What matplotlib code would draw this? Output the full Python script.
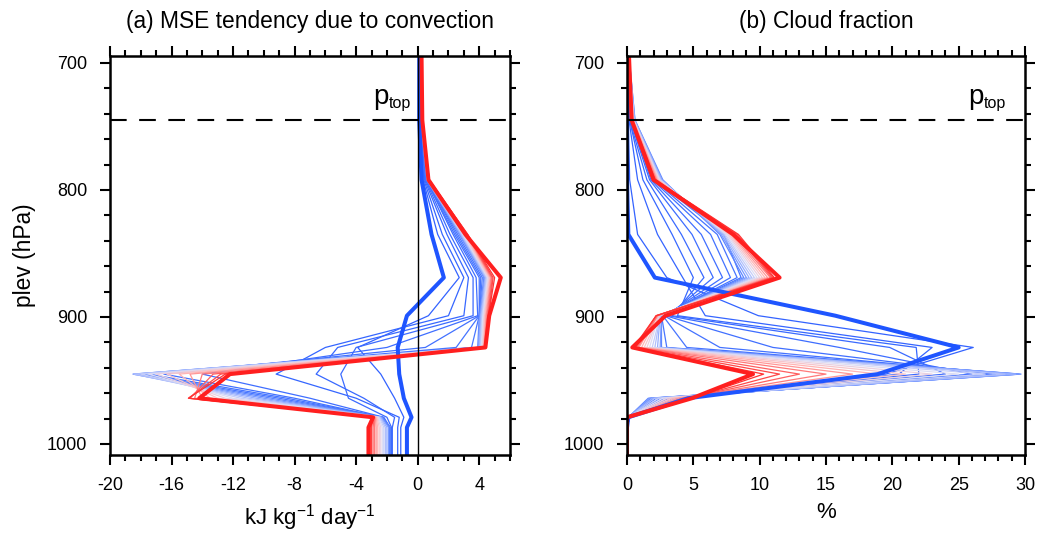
import numpy as np
import matplotlib.pyplot as plt
from matplotlib.colors import LinearSegmentedColormap
from matplotlib.ticker import MultipleLocator

plt.rcParams['font.family'] = ['Liberation Sans', 'DejaVu Sans']
plt.rcParams['axes.unicode_minus'] = False

# pressure levels (hPa) of the profiles
plev = [694.5, 745, 792, 835, 869, 899, 924, 945, 964, 979, 987, 1008.7]
p_top = 745

# (a) MSE tendency due to convection (kJ kg-1 day-1)
mse_first = [0.1, 0.1, 0.25, 0.9, 1.7, -0.7, -1.3, -1.2, -0.9, -0.4, -0.7, -0.7]
mse_last = [0.25, 0.3, 0.7, 3.1, 5.4, 4.65, 4.4, -12.2, -14.2, -2.9, -3.2, -3.2]
mse_early = [
    [0.1, 0.15, 0.35, 1.3, 2.7, 0.7, -3.9, -2.4, -1.5, -0.9, -1.1, -1.1],
    [0.1, 0.15, 0.4, 1.6, 3.0, 2.0, -6.0, -9.2, -4.0, -1.2, -1.3, -1.3],
    [0.1, 0.2, 0.45, 1.9, 3.3, 3.0, -5.2, -6.6, -3.5, -1.5, -1.65, -1.65],
    [0.15, 0.2, 0.5, 2.1, 3.6, 3.6, -4.0, -5.0, -4.5, -2.0, -1.7, -1.7],
    [0.15, 0.2, 0.55, 2.3, 3.8, 3.9, -2.0, -14.0, -7.0, -2.2, -1.8, -1.8],
    [0.15, 0.2, 0.55, 2.4, 4.0, 4.0, 0.5, -16.5, -8.0, -2.3, -1.8, -1.8],
    [0.15, 0.2, 0.6, 2.5, 4.1, 4.0, 2.5, -17.5, -8.5, -2.3, -1.8, -1.8],
    [0.15, 0.2, 0.6, 2.6, 4.2, 4.0, 3.5, -18.0, -9.0, -2.3, -1.8, -1.8],
]
mse_late = [
    [0.15, 0.2, 0.6, 2.7, 4.3, 4.0, 3.9, -18.3, -9.5, -2.3, -1.8, -1.8],
    [0.15, 0.2, 0.6, 2.75, 4.35, 4.05, 3.95, -18.5, -10.0, -2.35, -1.9, -1.9],
    [0.2, 0.25, 0.62, 2.8, 4.4, 4.1, 4.0, -18.5, -10.5, -2.4, -2.0, -2.0],
    [0.2, 0.25, 0.64, 2.85, 4.45, 4.15, 4.05, -18.4, -11.0, -2.45, -2.1, -2.1],
    [0.2, 0.25, 0.66, 2.9, 4.5, 4.2, 4.1, -18.0, -11.5, -2.5, -2.2, -2.2],
    [0.2, 0.25, 0.68, 2.95, 4.55, 4.25, 4.15, -17.5, -12.0, -2.55, -2.3, -2.3],
    [0.2, 0.25, 0.7, 3.0, 4.6, 4.3, 4.2, -17.0, -12.5, -2.6, -2.4, -2.4],
    [0.2, 0.3, 0.7, 3.05, 4.65, 4.35, 4.25, -16.3, -13.0, -2.65, -2.5, -2.5],
    [0.25, 0.3, 0.72, 3.1, 4.7, 4.4, 4.3, -15.5, -13.5, -2.7, -2.6, -2.6],
    [0.25, 0.3, 0.72, 3.15, 4.75, 4.45, 4.3, -14.8, -14.0, -2.75, -2.7, -2.7],
    [0.25, 0.3, 0.74, 3.2, 4.8, 4.5, 4.35, -14.0, -14.5, -2.8, -2.8, -2.8],
    [0.25, 0.3, 0.74, 3.2, 4.85, 4.55, 4.35, -13.3, -14.8, -2.85, -2.9, -2.9],
    [0.25, 0.3, 0.75, 3.25, 4.9, 4.6, 4.4, -12.8, -14.9, -2.9, -3.0, -3.0],
    [0.25, 0.3, 0.75, 3.25, 5.0, 4.6, 4.4, -12.5, -14.9, -2.9, -3.05, -3.05],
]

# (b) cloud fraction (%)
cld_first = [0.05, 0.0, 0.0, 0.1, 2.1, 15.7, 25.0, 18.9, 4.6, 0.1, 0.0, 0.0]
cld_last = [0.15, 0.35, 2.0, 8.0, 11.5, 2.9, 0.4, 9.5, 4.9, 0.0, 0.0, 0.0]
cld_early = [
    [0.05, 0.1, 0.2, 0.8, 3.0, 9.9, 26.1, 19.5, 4.3, 0.2, 0.0, 0.0],
    [0.05, 0.15, 0.8, 2.3, 4.2, 5.9, 23.0, 20.5, 4.0, 0.2, 0.0, 0.0],
    [0.1, 0.2, 1.2, 3.4, 5.0, 3.8, 21.8, 22.0, 3.6, 0.2, 0.0, 0.0],
    [0.1, 0.2, 1.5, 4.1, 5.8, 3.4, 19.8, 24.0, 3.2, 0.2, 0.0, 0.0],
    [0.1, 0.25, 1.7, 4.9, 6.5, 3.1, 16.0, 26.0, 2.8, 0.1, 0.0, 0.0],
    [0.1, 0.3, 1.8, 5.6, 7.2, 2.9, 11.0, 27.5, 2.5, 0.1, 0.0, 0.0],
    [0.1, 0.3, 1.9, 6.3, 7.8, 2.8, 7.0, 28.5, 2.2, 0.1, 0.0, 0.0],
    [0.1, 0.35, 2.0, 6.8, 8.3, 2.7, 4.5, 29.2, 2.0, 0.1, 0.0, 0.0],
    [0.1, 0.4, 2.1, 7.3, 8.6, 2.6, 3.0, 29.5, 1.8, 0.1, 0.0, 0.0],
]
cld_late = [
    [0.15, 0.6, 2.7, 7.0, 8.8, 2.6, 2.6, 29.7, 1.6, 0.1, 0.0, 0.0],
    [0.15, 0.6, 2.65, 7.1, 9.0, 2.6, 2.5, 29.6, 1.7, 0.1, 0.0, 0.0],
    [0.15, 0.55, 2.6, 7.2, 9.2, 2.5, 2.3, 29.3, 1.9, 0.1, 0.0, 0.0],
    [0.15, 0.55, 2.55, 7.3, 9.4, 2.5, 2.1, 28.5, 2.1, 0.1, 0.0, 0.0],
    [0.15, 0.5, 2.5, 7.4, 9.6, 2.5, 1.9, 27.0, 2.4, 0.1, 0.0, 0.0],
    [0.15, 0.5, 2.45, 7.5, 9.8, 2.4, 1.7, 25.0, 2.7, 0.1, 0.0, 0.0],
    [0.15, 0.5, 2.4, 7.6, 10.0, 2.4, 1.5, 23.0, 3.0, 0.1, 0.0, 0.0],
    [0.15, 0.45, 2.35, 7.7, 10.2, 2.4, 1.3, 21.0, 3.3, 0.1, 0.0, 0.0],
    [0.15, 0.45, 2.3, 7.8, 10.4, 2.3, 1.1, 19.0, 3.6, 0.1, 0.0, 0.0],
    [0.15, 0.45, 2.25, 7.9, 10.6, 2.3, 0.9, 17.0, 3.9, 0.1, 0.0, 0.0],
    [0.15, 0.4, 2.2, 8.0, 10.8, 2.3, 0.8, 15.0, 4.2, 0.0, 0.0, 0.0],
    [0.15, 0.4, 2.15, 8.2, 10.9, 2.2, 0.7, 13.0, 4.5, 0.0, 0.0, 0.0],
    [0.15, 0.4, 2.1, 8.3, 11.0, 2.2, 0.6, 11.5, 4.7, 0.0, 0.0, 0.0],
    [0.15, 0.4, 2.1, 8.4, 11.1, 2.2, 0.5, 10.3, 4.9, 0.0, 0.0, 0.0],
]

cmap = LinearSegmentedColormap.from_list(
    'bl_wh_re', ['#2f60ff', '#4d7bff', '#9db3ff', '#dcdcf5', '#ffbcbc', '#ff6a6a', '#ff2a2a'])
blue_thick = '#1f55ff'
red_thick = '#ff1f1f'


def draw_panel(ax, first, last, early, late, ptop_x):
    n_early = len(early)
    for i, prof in enumerate(early):
        ax.plot(prof, plev, color=cmap(0.02 + 0.12 * i / max(n_early - 1, 1)), lw=0.9)
    n_late = len(late)
    for i, prof in enumerate(late):
        ax.plot(prof, plev, color=cmap(0.2 + 0.78 * i / (n_late - 1)), lw=0.9)
    ax.plot(first, plev, color=blue_thick, lw=2.9)
    ax.plot(last, plev, color=red_thick, lw=2.9)
    ax.axhline(p_top, color='black', lw=1.5, dashes=(8, 6))
    # p_top label: big "p" with a small subscript
    ax.text(ptop_x, 732, 'p', fontsize=20, ha='left', va='baseline')
    ax.annotate('top', xy=(ptop_x, 732), xytext=(11.2, -3), textcoords='offset points',
                fontsize=11.5, ha='left', va='baseline')
    ax.set_ylim(1008.7, 694.5)
    ax.yaxis.set_major_locator(MultipleLocator(100))
    ax.yaxis.set_minor_locator(MultipleLocator(20))
    ax.xaxis.set_minor_locator(MultipleLocator(1))
    ax.tick_params(which='both', direction='out', top=True, right=True, width=1.5,
                   labelsize=13)
    ax.tick_params(axis='x', pad=8)
    ax.tick_params(axis='y', pad=9)
    ax.tick_params(which='major', length=7.5)
    ax.tick_params(which='minor', length=4.5)
    for s in ax.spines.values():
        s.set_linewidth(1.8)


fig = plt.figure(figsize=(10.5, 5.35), dpi=100)
ax1 = fig.add_axes([110 / 1050, 1 - 455 / 535, 400 / 1050, 399 / 535])
ax2 = fig.add_axes([627 / 1050, 1 - 455 / 535, 398 / 1050, 399 / 535])

draw_panel(ax1, mse_first, mse_last, mse_early, mse_late, -2.9)
ax1.axvline(0, color='black', lw=1.0, zorder=5)
ax1.set_xlim(-20, 6)
ax1.set_xticks([-20, -16, -12, -8, -4, 0, 4])
ax1.set_xlabel('kJ kg$^{\\mathregular{-1}}$ day$^{\\mathregular{-1}}$', fontsize=16, labelpad=6)
ax1.set_ylabel('plev (hPa)', fontsize=16.4)
ax1.yaxis.set_label_coords(-0.185, 0.5)
ax1.set_title('(a) MSE tendency due to convection', fontsize=16.4, pad=20)

draw_panel(ax2, cld_first, cld_last, cld_early, cld_late, 25.7)
ax2.set_xlim(0, 30)
ax2.set_xticks([0, 5, 10, 15, 20, 25, 30])
ax2.set_xlabel('%', fontsize=16, labelpad=6)
ax2.set_title('(b) Cloud fraction', fontsize=16.4, pad=20)

fig.savefig('out.png', dpi=100)
